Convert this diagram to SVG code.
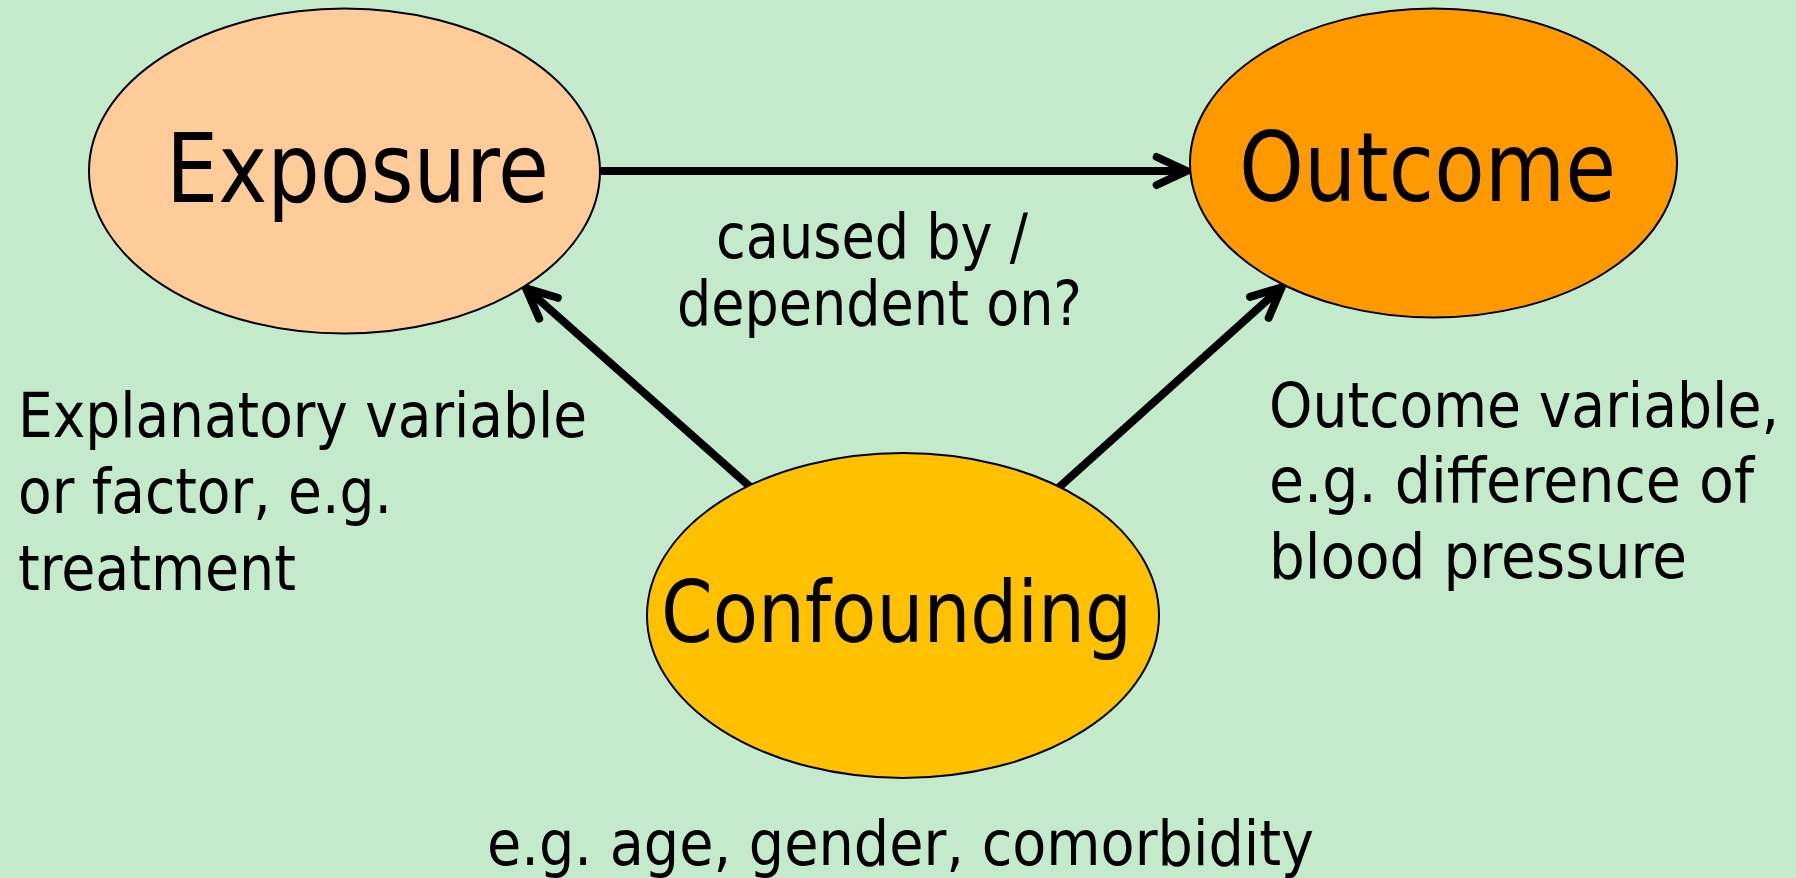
<svg xmlns="http://www.w3.org/2000/svg" width="1796" height="878" viewBox="0 0 1796 878">
<style>
.node{stroke:#000;stroke-width:2}
.big{font-family:"DejaVu Sans Condensed","DejaVu Sans",sans-serif;fill:#000}
.small{font-family:"DejaVu Sans Condensed","DejaVu Sans",sans-serif;fill:#000;font-size:62px}
.conn{stroke:#000;stroke-width:8;fill:none}
</style>
<defs>
<marker id="arr" markerUnits="userSpaceOnUse" viewBox="-40 -25 50 50" markerWidth="50" markerHeight="50" refX="-6" refY="0" orient="auto">
<path d="M-30,-14 L0,0 L-30,14" fill="none" stroke="#000" stroke-width="8" stroke-linecap="round" stroke-linejoin="miter"/>
</marker>
</defs>
<rect width="1796" height="878" fill="#C4EACC"/>
<g id="connectors">
<line class="conn" x1="599" y1="171" x2="1180.7" y2="171" marker-end="url(#arr)"/>
<line class="conn" x1="751.7" y1="488.3" x2="530.5" y2="292.3" marker-end="url(#arr)"/>
<line class="conn" x1="1058" y1="488.3" x2="1277.2" y2="291.3" marker-end="url(#arr)"/>
</g>
<g id="exposure">
<ellipse class="node" cx="344.5" cy="171" rx="255.5" ry="162.5" fill="#FFCC99"/>
<text class="big" x="166" y="201.7" font-size="96" textLength="383" lengthAdjust="spacingAndGlyphs">Exposure</text>
</g>
<g id="outcome">
<ellipse class="node" cx="1433.5" cy="163" rx="243.5" ry="154.5" fill="#FF9900"/>
<text class="big" x="1239" y="201" font-size="96" textLength="377" lengthAdjust="spacingAndGlyphs">Outcome</text>
</g>
<g id="confounding">
<ellipse class="node" cx="903" cy="615.5" rx="256" ry="162.5" fill="#FFC000"/>
<text class="big" x="661" y="641.7" font-size="86" textLength="471" lengthAdjust="spacingAndGlyphs">Confounding</text>
</g>
<g id="labels">
<text class="small" x="716" y="258.3" font-size="61" textLength="312" lengthAdjust="spacingAndGlyphs">caused by /</text>
<text class="small" x="677" y="325" font-size="61" textLength="405" lengthAdjust="spacingAndGlyphs">dependent on?</text>
<text class="small" x="18" y="436.7" textLength="569" lengthAdjust="spacingAndGlyphs">Explanatory variable</text>
<text class="small" x="18" y="513.3" textLength="374" lengthAdjust="spacingAndGlyphs">or factor, e.g.</text>
<text class="small" x="18" y="590" textLength="278" lengthAdjust="spacingAndGlyphs">treatment</text>
<text class="small" x="1269" y="426.7" textLength="510" lengthAdjust="spacingAndGlyphs">Outcome variable,</text>
<text class="small" x="1269" y="501.7" textLength="485" lengthAdjust="spacingAndGlyphs">e.g. difference of</text>
<text class="small" x="1269" y="578" textLength="418" lengthAdjust="spacingAndGlyphs">blood pressure</text>
<text class="small" x="487" y="865" textLength="827" lengthAdjust="spacingAndGlyphs">e.g. age, gender, comorbidity</text>
</g>
</svg>
